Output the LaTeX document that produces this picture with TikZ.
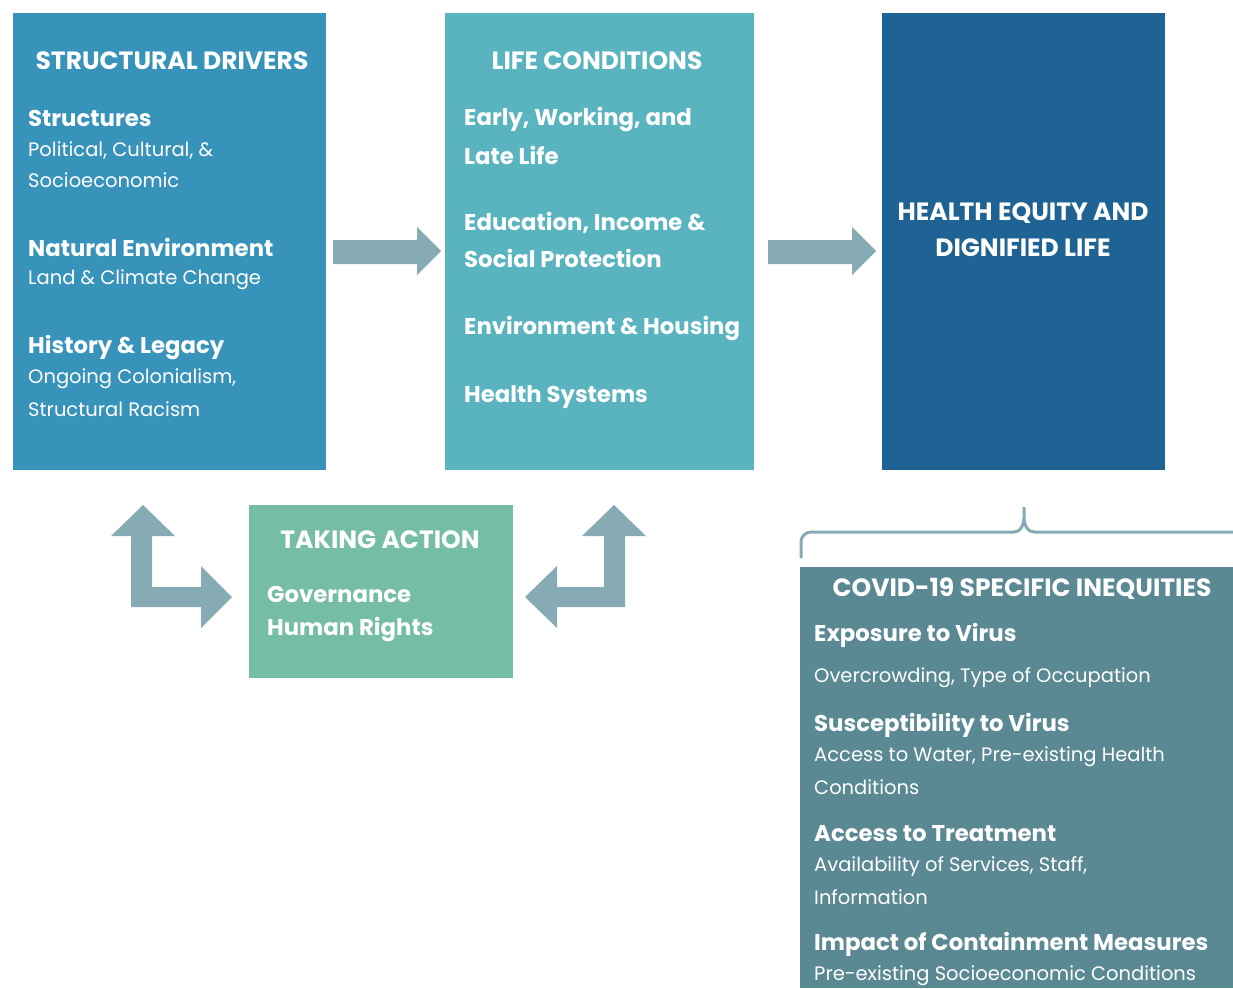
\documentclass[tikz,border=0pt]{standalone}
\usepackage{fontspec}
\setmainfont{Poppins}
\begin{document}
\begin{tikzpicture}[x=1pt,y=-1pt,
  title/.style={text=white,font=\fontsize{25}{28}\selectfont\bfseries,inner sep=0pt,yshift=-1pt},
  head/.style={text=white,font=\fontsize{22.8}{26}\selectfont\bfseries,anchor=west,inner sep=0pt,yshift=-1pt},
  sub/.style={text=white,font=\fontsize{19.5}{23}\selectfont,anchor=west,inner sep=0pt,yshift=-1pt},
  arr/.style={fill=arrowc,draw=none}]
\definecolor{sdc}{RGB}{55,147,186}
\definecolor{lcc}{RGB}{90,180,192}
\definecolor{hec}{RGB}{30,99,147}
\definecolor{tac}{RGB}{118,189,168}
\definecolor{cvc}{RGB}{90,136,147}
\definecolor{arrowc}{RGB}{134,171,181}
\useasboundingbox (0,0) rectangle (1233,988);
% boxes
\fill[sdc] (13,13) rectangle (326,470);
\fill[lcc] (445,13) rectangle (754,470);
\fill[hec] (882,13) rectangle (1165,470);
\fill[tac] (249,505) rectangle (513,678);
\fill[cvc] (800,567) rectangle (1233,988);
% straight arrows
\fill[arr] (333,240) -- (417,240) -- (417,227) -- (441,251) -- (417,275) -- (417,264) -- (333,264) -- cycle;
\fill[arr] (768,240) -- (852,240) -- (852,227) -- (876,251) -- (852,275) -- (852,264) -- (768,264) -- cycle;
% bent arrows
\fill[arr] (143,505) -- (175,536) -- (152,536) -- (152,587) -- (201,587) -- (201,566) -- (232,597) -- (201,628) -- (201,607) -- (131,607) -- (131,536) -- (111,536) -- cycle;
\fill[arr] (614,505) -- (646,536) -- (625,536) -- (625,607) -- (557,607) -- (557,628) -- (525,597) -- (557,566) -- (557,587) -- (604,587) -- (604,536) -- (582,536) -- cycle;
% brace
\draw[arrowc,line width=3pt] (801,558) -- (801,542) to[out=90,in=180] (811,532) -- (1014,532) to[out=0,in=-90] (1024,518) -- (1024,507);
\draw[arrowc,line width=3pt] (1024,518) to[out=-90,in=180] (1034,532) -- (1233,532);
% structural drivers
\node[title] (sdt) at (172,60) {STRUCTURAL DRIVERS};
\node[head] (sd1) at (28,117) {Structures};
\node[sub] (sd2) at (28,149) {Political, Cultural, \&};
\node[sub] (sd3) at (28,179) {Socioeconomic};
\node[head] (sd4) at (28,246) {Natural Environment};
\node[sub] (sd5) at (28,279) {Land \& Climate Change};
\node[head] (sd6) at (28,346) {History \& Legacy};
\node[sub] (sd7) at (28,378) {Ongoing Colonialism,};
\node[sub] (sd8) at (28,408) {Structural Racism};
% life conditions
\node[title] (lct) at (597,60) {LIFE CONDITIONS};
\node[head] (lc1) at (464,119) {Early, Working, and};
\node[head] (lc2) at (464,154) {Late Life};
\node[head] (lc3) at (464,222) {Education, Income \&};
\node[head] (lc4) at (464,257) {Social Protection};
\node[head] (lc5) at (464,327) {Environment \& Housing};
\node[head] (lc6) at (464,396) {Health Systems};
% health equity
\node[title] (he1) at (1023,212) {HEALTH EQUITY AND};
\node[title] (he2) at (1023,247) {DIGNIFIED LIFE};
% taking action
\node[title] (tat) at (380,539) {TAKING ACTION};
\node[head] (ta1) at (267,593) {Governance};
\node[head] (ta2) at (267,628) {Human Rights};
% covid
\node[title] (cvt) at (1022,588) {COVID-19 SPECIFIC INEQUITIES};
\node[head] (cv1) at (814,634) {Exposure to Virus};
\node[sub] (cv2) at (814,677) {Overcrowding, Type of Occupation};
\node[head] (cv3) at (814,724) {Susceptibility to Virus};
\node[sub] (cv4) at (814,756) {Access to Water, Pre-existing Health};
\node[sub] (cv5) at (814,786) {Conditions};
\node[head] (cv6) at (814,833) {Access to Treatment};
\node[sub] (cv7) at (814,866) {Availability of Services, Staff,};
\node[sub] (cv8) at (814,896) {Information};
\node[head] (cv9) at (814,943) {Impact of Containment Measures};
\node[sub] (cv10) at (814,975) {Pre-existing Socioeconomic Conditions};
\end{tikzpicture}
\end{document}
